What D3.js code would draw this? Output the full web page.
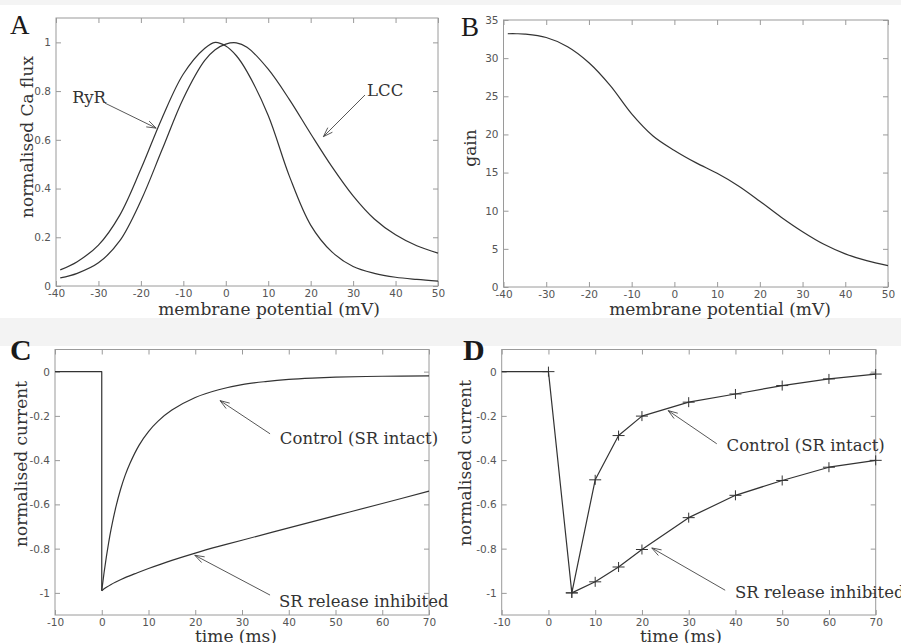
<!DOCTYPE html>
<html><head><meta charset="utf-8">
<script src="https://cdn.jsdelivr.net/npm/d3@7"></script>
<style>body{margin:0;background:#fff}</style>
</head><body>
<svg id="c" width="901" height="643"></svg>
<script>
// ---------- data ----------
const potential = [-39,-35,-30,-25,-20,-15,-10,-5,-2.5,0,2.5,5,10,15,20,25,30,35,40,45,50];
const ryrFlux  = [0.066,0.10,0.168,0.29,0.48,0.69,0.87,0.975,1.0,0.985,0.945,0.88,0.70,0.45,0.25,0.14,0.08,0.052,0.036,0.027,0.02];
const lccFlux  = [0.033,0.052,0.095,0.185,0.35,0.56,0.77,0.925,0.97,0.993,0.998,0.98,0.89,0.765,0.625,0.49,0.37,0.275,0.21,0.165,0.135];

const gainPotential = [-39,-37,-35,-30,-25,-20,-15,-10,-5,0,5,10,15,20,25,30,35,40,45,50];
const gain = [33.2,33.2,33.15,32.7,31.5,29.4,26.4,22.7,19.8,17.9,16.3,14.9,13.25,11.25,9.15,7.25,5.6,4.35,3.45,2.8];

const stepTime = [-10,0,0];
const stepCurrent = [0,0,-0.99];
const controlTime = [0,0.5,1,1.5,2,3,4,5,6,8,10,12,15,20,25,30,35,40,45,50,60,70];
const controlCurrent = [-0.99,-0.908,-0.835,-0.77,-0.712,-0.614,-0.534,-0.469,-0.416,-0.332,-0.271,-0.225,-0.174,-0.117,-0.082,-0.059,-0.045,-0.035,-0.029,-0.025,-0.021,-0.019];
const inhibitedTime = [0,1,2,3,5,7.5,10,15,20,25,30,40,50,60,70];
const inhibitedCurrent = [-0.99,-0.975,-0.962,-0.951,-0.931,-0.91,-0.89,-0.853,-0.82,-0.79,-0.762,-0.706,-0.651,-0.596,-0.54];

const stepTimeD = [-10,0];
const stepCurrentD = [0,0];
const controlTimeD = [0,5,10,15,20,30,40,50,60,70];
const controlCurrentD = [0,-1.0,-0.489,-0.289,-0.201,-0.138,-0.101,-0.063,-0.033,-0.011];
const inhibitedTimeD = [5,10,15,20,30,40,50,60,70];
const inhibitedCurrentD = [-1.0,-0.95,-0.883,-0.804,-0.66,-0.559,-0.492,-0.432,-0.401];

const potentialTicks = [-40,-30,-20,-10,0,10,20,30,40,50];
const fluxTicks = [0,0.2,0.4,0.6,0.8,1];
const gainTicks = [0,5,10,15,20,25,30,35];
const timeTicks = [-10,0,10,20,30,40,50,60,70];
const currentTicks = [0,-0.2,-0.4,-0.6,-0.8,-1];

// annotations (data coordinates)
const notesA = [
  {text:"RyR", at:[-36.2,0.751], from:[-28.5,0.751], to:[-16.4,0.648]},
  {text:"LCC", at:[33.3,0.78], from:[32.8,0.784], to:[23,0.613]}
];
const notesC = [
  {text:"Control (SR intact)", at:[38.1,-0.325], from:[36.0,-0.281], to:[25.3,-0.131]},
  {text:"SR release inhibited", at:[37.9,-1.063], from:[36.0,-1.01], to:[19.9,-0.83]}
];
const notesD = [
  {text:"Control (SR intact)", at:[38.1,-0.361], from:[36.0,-0.326], to:[25.6,-0.176]},
  {text:"SR release inhibited", at:[39.9,-1.025], from:[37.8,-0.988], to:[22.1,-0.797]}
];

// ---------- drawing ----------
const svg = d3.select("#c");
svg.append("rect").attr("x",0).attr("y",0).attr("width",901).attr("height",5).attr("fill","#f4f4f4");
svg.append("rect").attr("x",0).attr("y",318).attr("width",901).attr("height",28).attr("fill","#f3f3f3");

const FRAME = "#9a9a9a", INK = "#333", TICKTXT = "#555";
const fmt = d => String(d);
const smooth = d3.curveCatmullRom.alpha(0.5);

function makePanel(xd, yd, xt, yt, box) {
  const x = d3.scaleLinear().domain(xd).range([box.l, box.r]);
  const y = d3.scaleLinear().domain(yd).range([box.b, box.t]);
  const g = svg.append("g");
  const axes = [
    g.append("g").attr("transform",`translate(0,${box.b})`)
      .call(d3.axisBottom(x).tickValues(xt).tickSizeInner(-5).tickSizeOuter(0).tickPadding(4).tickFormat(fmt)),
    g.append("g").attr("transform",`translate(0,${box.t})`)
      .call(d3.axisTop(x).tickValues(xt).tickSizeInner(-5).tickSizeOuter(0).tickFormat("")),
    g.append("g").attr("transform",`translate(${box.l},0)`)
      .call(d3.axisLeft(y).tickValues(yt).tickSizeInner(-5).tickSizeOuter(0).tickPadding(5).tickFormat(fmt)),
    g.append("g").attr("transform",`translate(${box.r},0)`)
      .call(d3.axisRight(y).tickValues(yt).tickSizeInner(-5).tickSizeOuter(0).tickFormat(""))
  ];
  axes.forEach(a => {
    a.select(".domain").remove();
    a.selectAll(".tick line").attr("stroke",FRAME);
    a.selectAll(".tick text").attr("fill",TICKTXT).style("font-family","DejaVu Sans").style("font-size","10.5px");
  });
  g.append("rect").attr("x",box.l).attr("y",box.t).attr("width",box.r-box.l).attr("height",box.b-box.t)
    .attr("fill","none").attr("stroke",FRAME).attr("stroke-width",1);
  return {g,x,y};
}

function curve(p, xs, ys, type) {
  const line = d3.line().x(d=>p.x(d[0])).y(d=>p.y(d[1])).curve(type || d3.curveLinear);
  p.g.append("path").attr("d", line(d3.zip(xs, ys))).attr("fill","none")
    .attr("stroke",INK).attr("stroke-width",1.2).attr("stroke-linejoin","round");
}

function notes(p, list) {
  list.forEach(n => {
    p.g.append("text").attr("x",p.x(n.at[0])).attr("y",p.y(n.at[1])).text(n.text)
      .attr("fill",INK).style("font-family","DejaVu Serif").style("font-size","16.5px");
    const x1=p.x(n.from[0]), y1=p.y(n.from[1]), x2=p.x(n.to[0]), y2=p.y(n.to[1]);
    const a = Math.atan2(y2-y1, x2-x1), L = 10, s = 0.33;
    const path = `M${x1},${y1}L${x2},${y2}` +
      `M${x2-L*Math.cos(a-s)},${y2-L*Math.sin(a-s)}L${x2},${y2}L${x2-L*Math.cos(a+s)},${y2-L*Math.sin(a+s)}`;
    p.g.append("path").attr("d",path).attr("fill","none").attr("stroke","#444").attr("stroke-width",0.9);
  });
}

function title(text, x, y, rotate, size) {
  const t = svg.append("text").text(text).attr("text-anchor","middle").attr("fill",INK)
    .style("font-family","DejaVu Serif").style("font-size",(size||17)+"px");
  if (rotate) t.attr("transform",`translate(${x},${y}) rotate(-90)`);
  else t.attr("x",x).attr("y",y);
}

function letter(text, x, y, bold) {
  svg.append("text").text(text).attr("x",x).attr("y",y).attr("fill","#1a1a1a")
    .style("font-family","Liberation Serif").style("font-size", bold ? "30px" : "27px")
    .style("font-weight", bold ? "bold" : "normal");
}

// Panel A
const pA = makePanel([-40,50],[0,1.1],potentialTicks,fluxTicks,{l:56,r:438,t:18,b:286});
curve(pA, potential, ryrFlux, smooth);
curve(pA, potential, lccFlux, smooth);
notes(pA, notesA);
title("membrane potential (mV)", 269, 315);
title("normalised Ca flux", 33, 137, true);
letter("A", 10, 34);

// Panel B
const pB = makePanel([-40,50],[0,35],potentialTicks,gainTicks,{l:503.5,r:888,t:20,b:287});
curve(pB, gainPotential, gain, smooth);
title("membrane potential (mV)", 720, 315);
title("gain", 476, 148, true);
letter("B", 461, 36);

// Panel C
const pC = makePanel([-10,70],[-1.1,0.1],timeTicks,currentTicks,{l:55,r:429,t:349.5,b:615});
curve(pC, stepTime, stepCurrent);
curve(pC, controlTime, controlCurrent, smooth);
curve(pC, inhibitedTime, inhibitedCurrent, smooth);
notes(pC, notesC);
title("time (ms)", 236, 642);
title("normalised current", 27, 464, true);
letter("C", 10, 360, true);

// Panel D
const pD = makePanel([-10,70],[-1.1,0.1],timeTicks,currentTicks,{l:501.7,r:875.7,t:349.5,b:615});
curve(pD, stepTimeD, stepCurrentD);
curve(pD, controlTimeD, controlCurrentD);
curve(pD, inhibitedTimeD, inhibitedCurrentD);
function markers(p, xs, ys) {
  d3.zip(xs, ys).forEach(d => {
    const px = p.x(d[0]), py = p.y(d[1]);
    p.g.append("path").attr("d",`M${px-6},${py}h12M${px},${py-5}v10`).attr("stroke",INK).attr("stroke-width",1);
  });
}
markers(pD, controlTimeD, controlCurrentD);
markers(pD, inhibitedTimeD, inhibitedCurrentD);
notes(pD, notesD);
title("time (ms)", 681, 642);
title("normalised current", 471, 463, true);
letter("D", 463, 360, true);
</script>
</body></html>
